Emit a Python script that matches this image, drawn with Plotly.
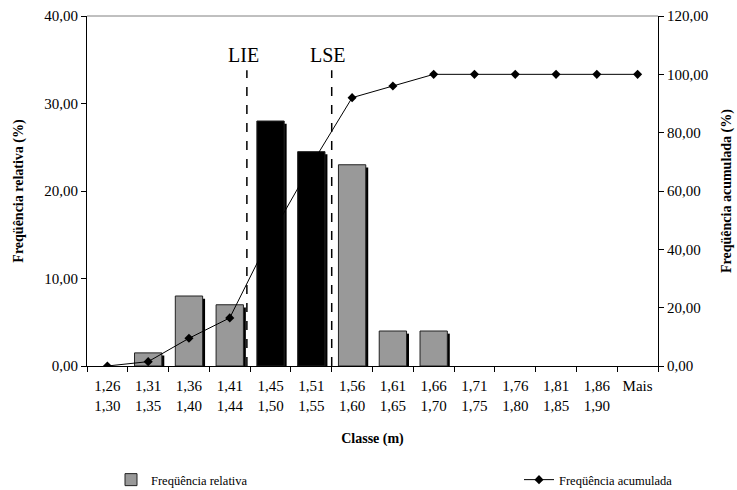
import plotly.graph_objects as go

# Height classes (m) and their frequencies
classes = ["1,26<br>1,30", "1,31<br>1,35", "1,36<br>1,40", "1,41<br>1,44",
           "1,45<br>1,50", "1,51<br>1,55", "1,56<br>1,60", "1,61<br>1,65",
           "1,66<br>1,70", "1,71<br>1,75", "1,76<br>1,80", "1,81<br>1,85",
           "1,86<br>1,90", "Mais"]
freq_rel = [0, 1.5, 8, 7, 28, 24.5, 23, 4, 4, 0, 0, 0, 0, 0]
freq_acum = [0, 1.5, 9.5, 16.5, 44.5, 69, 92, 96, 100, 100, 100, 100, 100, 100]

# Specification limits, in class-axis position units
lie_pos = 3.42
lse_pos = 5.5
limit_top = 33.8

FONT = "Liberation Serif, Times New Roman, serif"
GRAY = "#999999"
BAR_W = 0.67
SHADOW_DX = 0.06
SHADOW_DY = 0.3
W, H = 737, 490

idx = list(range(len(classes)))
bar_colors = ["#000000" if lie_pos < i < lse_pos else GRAY for i in idx]
# empty classes get no bar at all (not even an outline)
bar_y = [v if v > 0 else None for v in freq_rel]
shadow_y = [v - SHADOW_DY if v > 0 else None for v in freq_rel]

fig = go.Figure()

# drop shadow behind each bar
fig.add_trace(go.Bar(
    x=classes, y=shadow_y, width=BAR_W, offset=-BAR_W / 2 + SHADOW_DX,
    marker=dict(color="#000000", line=dict(width=0)),
    showlegend=False, hoverinfo="skip",
))
fig.add_trace(go.Bar(
    x=classes, y=bar_y, width=BAR_W, offset=-BAR_W / 2,
    name="Freqüência relativa",
    marker=dict(color=bar_colors, line=dict(color="#222222", width=1)),
    legend="legend",
))
fig.add_trace(go.Scatter(
    x=classes, y=freq_acum, yaxis="y2", mode="lines+markers",
    name="Freqüência acumulada",
    line=dict(color="#000000", width=1),
    marker=dict(symbol="diamond", size=7, color="#000000"),
    legend="legend2",
))

# LIE / LSE dashed limits
for pos, label in [(lie_pos, "LIE"), (lse_pos, "LSE")]:
    fig.add_shape(type="line", xref="x", yref="y", x0=pos, x1=pos, y0=0, y1=limit_top,
                  line=dict(color="#000000", width=1.5, dash="dash"))
    fig.add_annotation(x=pos - 0.08, y=limit_top + 0.3, xref="x", yref="y", text=label,
                       showarrow=False, yanchor="bottom",
                       font=dict(family=FONT, size=20, color="#000000"))

# thin top border of the plot area
fig.add_shape(type="line", xref="paper", yref="paper", x0=0, x1=1, y0=1, y1=1,
              line=dict(color="#808080", width=1))

axis_common = dict(ticks="outside", ticklen=5, tickcolor="#000000",
                   showline=True, linecolor="#000000", linewidth=1,
                   showgrid=False, automargin=False,
                   tickfont=dict(family=FONT, size=15))
title_font = dict(family=FONT, size=14)

fig.update_layout(
    width=W, height=H,
    margin=dict(l=87, r=79, t=16, b=124, autoexpand=False),
    paper_bgcolor="white", plot_bgcolor="white",
    barmode="overlay",
    separators=",.",
    font=dict(family=FONT, size=15, color="#000000"),
    xaxis=dict(
        type="category", range=[-0.5, len(classes) - 0.5],
        tickson="boundaries", ticklabelstandoff=6,
        title=dict(text="<b>Classe (m)</b>", font=title_font, standoff=20),
        **axis_common,
    ),
    yaxis=dict(
        range=[0, 40], dtick=10, tickformat=".2f", zeroline=False,
        title=dict(text="<b>Freqüência relativa (%)</b>", font=title_font, standoff=17),
        **axis_common,
    ),
    yaxis2=dict(
        overlaying="y", side="right",
        range=[0, 120], dtick=20, tickformat=".2f", zeroline=False,
        title=dict(text="<b>Freqüência acumulada (%)</b>", font=title_font, standoff=13),
        **axis_common,
    ),
    legend=dict(x=111 / W, y=10 / H, xref="container", yref="container",
                xanchor="left", yanchor="middle",
                orientation="h", font=dict(family=FONT, size=12.5), bgcolor="rgba(0,0,0,0)"),
    legend2=dict(x=519 / W, y=10 / H, xref="container", yref="container",
                 xanchor="left", yanchor="middle",
                 orientation="h", font=dict(family=FONT, size=12.5), bgcolor="rgba(0,0,0,0)"),
)

fig.write_html("out.html")
